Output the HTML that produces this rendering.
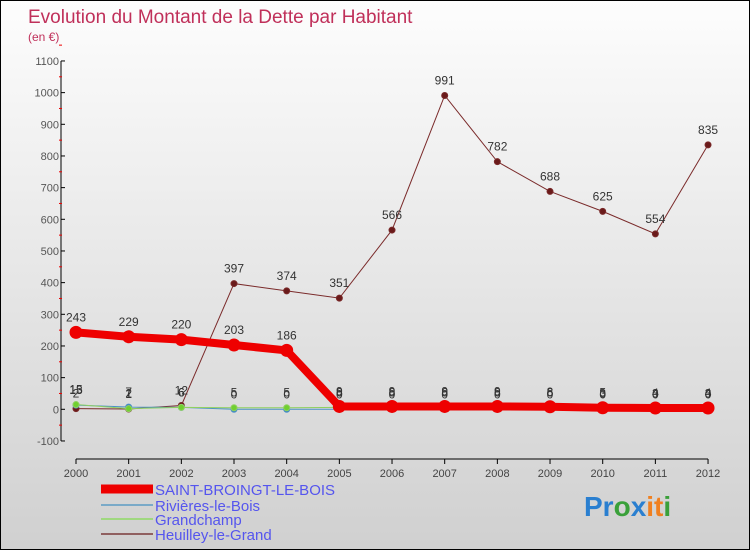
<!DOCTYPE html>
<html><head><meta charset="utf-8"><style>
html,body{margin:0;padding:0}
body{width:750px;height:550px;overflow:hidden;font-family:"Liberation Sans",sans-serif}
#wrap{position:relative;width:748px;height:548px;border:1px solid #000;background:linear-gradient(#fdfdfd,#d0d0d0)}
svg{position:absolute;left:0;top:0}
</style></head><body>
<div id="wrap">
<svg id="chart" width="750" height="550">
<text x="27" y="22" font-size="19" fill="#c0305a">Evolution du Montant de la Dette par Habitant</text>
<text x="27" y="40" font-size="12" fill="#c0305a">(en €)</text>
<g id="axes"></g><g id="series"></g><g id="legend"></g>
<text x="583" y="515" font-size="28" font-weight="bold"><tspan fill="#2a7fd0">Pr</tspan><tspan fill="#3aa03a">o</tspan><tspan fill="#2a7fd0">x</tspan><tspan fill="#f08020">it</tspan><tspan fill="#3aa03a">i</tspan></text>
</svg></div>
<script>
const years=[2000,2001,2002,2003,2004,2005,2006,2007,2008,2009,2010,2011,2012];
const yTicks=[-100,0,100,200,300,400,500,600,700,800,900,1000,1100];
const saint=[243,229,220,203,186,9,9,9,9,8,5,4,4];
const rivieres=[13,7,6,0,0,0,0,0,0,0,0,0,0];
const grandchamp=[15,2,6,5,5,6,6,6,6,6,3,3,3];
const heuilley=[2,1,12,397,374,351,566,991,782,688,625,554,835];
const NS="http://www.w3.org/2000/svg";
const xS=i=>75+i*52.67;
const yS=v=>408.3-v*0.31667;
function mk(p,t,a){const e=document.createElementNS(NS,t);for(const k in a)e.setAttribute(k,a[k]);p.appendChild(e);return e;}
const ax=document.getElementById('axes');
let e=mk(ax,'line',{x1:60,y1:yS(1100),x2:60,y2:yS(-100),stroke:'#000'});


e=mk(ax,'line',{x1:75,y1:458,x2:707,y2:458,stroke:'#000'});


yTicks.forEach(v=>{
 mk(ax,'line',{x1:60,y1:yS(v),x2:64,y2:yS(v),stroke:'#000'});
 mk(ax,'line',{x1:58,y1:yS(v+50),x2:61,y2:yS(v+50),stroke:'#e00'});
 const t=mk(ax,'text',{x:58,y:yS(v)+4,'font-size':11,fill:'#555','text-anchor':'end'});t.textContent=v;
 
 
});
years.forEach((y,i)=>{
 mk(ax,'line',{x1:xS(i),y1:458,x2:xS(i),y2:463,stroke:'#000'});
 const t=mk(ax,'text',{x:xS(i),y:476,'font-size':11,fill:'#444','text-anchor':'middle'});t.textContent=y;
 
 
});
const sg=document.getElementById('series');
function draw(arr,name,col,w,r,fill){
 const g=mk(sg,'g',{});
 
 
 const p=mk(g,'polyline',{points:arr.map((v,i)=>xS(i)+','+yS(v)).join(' '),fill:'none',stroke:col,'stroke-width':w});
 
 
 arr.forEach((v,i)=>{
  const c=mk(g,'circle',{cx:xS(i),cy:yS(v),r:r,fill:fill,stroke:col,'stroke-width':w>4?3:1});
  
  
  const t=mk(g,'text',{x:xS(i),y:yS(v)-11,'font-size':12,fill:'#333','text-anchor':'middle'});t.textContent=v;
  
  
 });
}
draw(heuilley,'heuilley-le-grand','#7a2a2a',1,3,'#6a1a1a');
draw(rivieres,'rivieres-le-bois','#4a90c8',1,3,'#3a80c0');
draw(grandchamp,'grandchamp','#90d060',1,3,'#70d030');
draw(saint,'saint-broingt-le-bois','#ee0000',8,5,'#ee0000');
// green dots on top of red for small values
const lg=document.getElementById('legend');
const items=[['SAINT-BROINGT-LE-BOIS','#ee0000',9,493],['Rivières-le-Bois','#7aaac8',2,509],['Grandchamp','#a0d880',2,523],['Heuilley-le-Grand','#906060',2,538]];
items.forEach(it=>{
 const l=mk(lg,'line',{x1:100,y1:it[3]-5,x2:152,y2:it[3]-5,stroke:it[1],'stroke-width':it[2]});
 
 
 const t=mk(lg,'text',{x:154,y:it[3]+1,'font-size':15,fill:'#5555ee'});t.textContent=it[0];
 
 
});
</script>
</body></html>
